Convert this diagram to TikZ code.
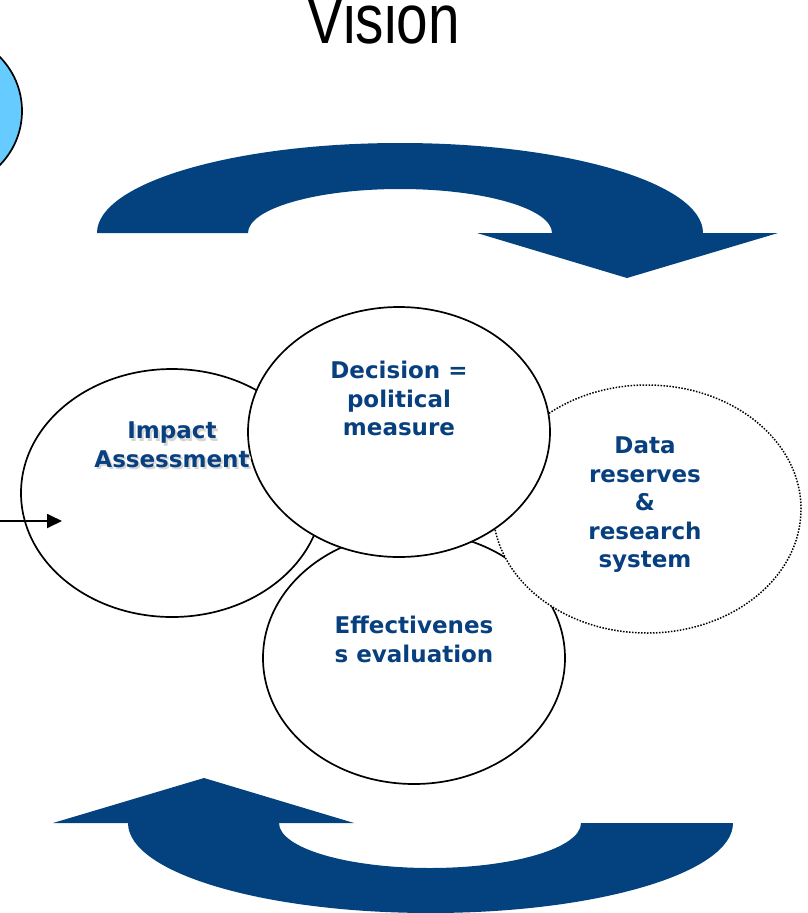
\documentclass[tikz,border=0pt]{standalone}
\usepackage{fontspec}
\usepackage{tikz}
\usetikzlibrary{positioning,arrows.meta,calc}
\usetikzlibrary{shapes.geometric}
\newfontfamily\titlefont{Liberation Sans}
\newfontfamily\bubblefont{DejaVu Sans}
\definecolor{cycleblue}{HTML}{03427F}
\definecolor{labelblue}{HTML}{08407F}
\definecolor{skyblue}{HTML}{66CCFF}

\tikzset{
  bubble/.style={ellipse, draw, fill=white, line width=1.7pt, inner sep=0,
                 minimum width=302pt, minimum height=248pt},
  lbl/.style={font=\bubblefont\bfseries\fontsize{23}{28.5}\selectfont,
              text=labelblue, align=center, inner sep=0, anchor=north},
  shade/.style={lbl, text=black!16},
  title/.style={font=\titlefont\fontsize{70}{70}\selectfont, anchor=base, inner sep=0}
}

\begin{document}
\begin{tikzpicture}[x=1pt, y=1pt]

  % Frame
  \useasboundingbox (0,0) rectangle (807,-913);
  \clip (0,0) rectangle (807,-913);

  % Title
  \node[title] (vision) at (383,-43) {\scalebox{0.81}[1]{Vision}};

  % Blue circle at the edge
  \draw[fill=skyblue, line width=1.7pt] (-55,-111) circle (77);

  % Upper turning arrow
  \fill[cycleblue] (97,-233) arc[start angle=180, end angle=0, x radius=303, y radius=90]
    -- (778,-233) -- (627,-278) -- (477,-233) -- (552,-233)
    arc[start angle=0, end angle=180, x radius=152, y radius=44] -- cycle;

  % Lower turning arrow
  \fill[cycleblue] (733,-823) arc[start angle=0, end angle=-180, x radius=302.5, y radius=90]
    -- (53,-823) -- (204,-778) -- (354,-823) -- (279,-823)
    arc[start angle=180, end angle=360, x radius=151, y radius=45] -- cycle;

  % Bubbles
  \node[bubble] (impact) at (172,-493) {};
  \node[bubble, minimum height=252pt] (effect) at (414,-658) {};
  \node[bubble, minimum width=308pt, line width=1.5pt, dash pattern=on 1.5pt off 1.5pt] (data) at (647,-509) {};
  \node[bubble, minimum height=250pt] (decision) at (399,-432) {};

  % Labels
  \node[shade] (impactshadow) at ([xshift=2, yshift=68.5]impact.center) {Impact\\Assessment};
  \node[lbl] (impacttext) at ([yshift=71]impact.center) {Impact\\Assessment};
  \node[lbl] (decisiontext) at ([yshift=71]decision.center) {Decision =\\political\\measure};
  \node[lbl] (datatext) at ([xshift=-2, yshift=72]data.center) {Data\\reserves\\\&\\research\\system};
  \node[lbl] (effecttext) at ([yshift=42]effect.center) {Effectivenes\\s evaluation};

  % Input arrow
  \coordinate (in) at (0,-521);
  \coordinate (inend) at (62,-521);
  \draw[line width=1.8pt, -{Triangle[length=15pt, width=14pt]}] (in) -- (inend);

\end{tikzpicture}
\end{document}
